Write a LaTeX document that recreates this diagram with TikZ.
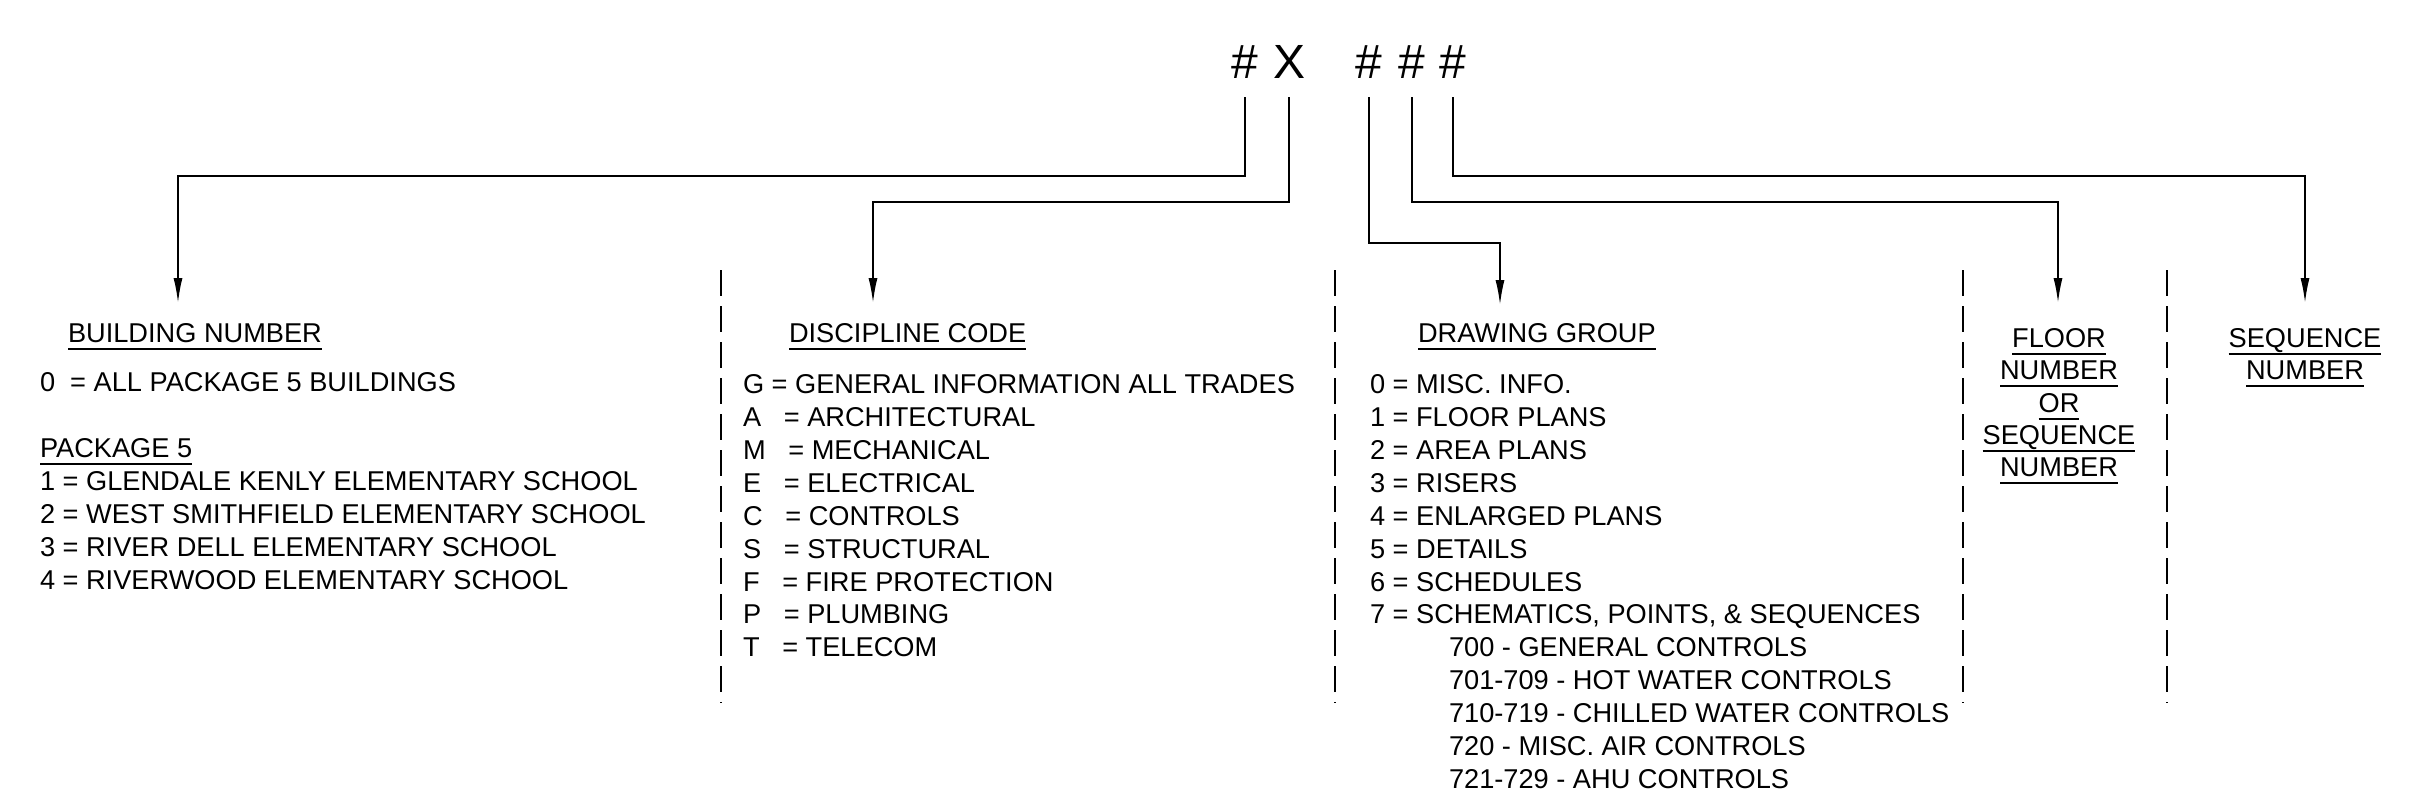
\documentclass[tikz,border=0pt]{standalone}
\usepackage{fontspec}
\setmainfont{Liberation Sans}
\usetikzlibrary{arrows.meta}
\newcommand\ulnode[4][base west]{%
  \node[txt,anchor=#1,text depth=0pt] (#2) at #3 {#4};
  \draw[ulline] ([yshift=-7pt]#2.south west) -- ([yshift=-7pt]#2.south east);}
\begin{document}
\begin{tikzpicture}[x=1pt,y=-1pt,
  txt/.style={anchor=base west, inner sep=0pt, outer sep=0pt, font=\fontsize{27.2}{32.9}\selectfont},
  hdr/.style={anchor=base, inner xsep=0pt, inner ysep=19pt, outer sep=0pt, text depth=0pt, font=\fontsize{48}{50}\selectfont},
  ulline/.style={line width=1.8pt},
  conn/.style={line width=1.8pt, -{Latex[length=25pt,width=9pt]}},
  sep/.style={line width=1.8pt, dash pattern=on 26pt off 10pt}]
\useasboundingbox (0,0) rectangle (2422,808);
% header
\node[hdr] (h1) at (1245,78) {\#};
\node[hdr] (h2) at (1289,78) {X};
\node[hdr] (h3) at (1369,78) {\#};
\node[hdr] (h4) at (1412,78) {\#};
\node[hdr] (h5) at (1453,78) {\#};
% arrow targets and bends
\coordinate (t1) at (178,303);
\coordinate (t2) at (873,303);
\coordinate (t3) at (1500,305);
\coordinate (t4) at (2058,303);
\coordinate (t5) at (2305,303);
\coordinate (k1) at (178,176);
\coordinate (k2) at (873,202);
\coordinate (k3) at (1500,243);
\coordinate (k4) at (2058,202);
\coordinate (k5) at (2305,176);
\draw[conn] (h1.south) |- (k1) -- (t1);
\draw[conn] (h2.south) |- (k2) -- (t2);
\draw[conn] (h3.south) |- (k3) -- (t3);
\draw[conn] (h4.south) |- (k4) -- (t4);
\draw[conn] (h5.south) |- (k5) -- (t5);
% separators
\draw[sep] (721,270) -- (721,703);
\draw[sep] (1335,270) -- (1335,703);
\draw[sep] (1963,270) -- (1963,703);
\draw[sep] (2167,270) -- (2167,703);
% column 1
\ulnode{bt}{(68,342)}{BUILDING NUMBER}
\node[txt] (b0) at (40,391) {0\ \ = ALL PACKAGE 5 BUILDINGS};
\ulnode{bp}{(40,457)}{PACKAGE 5}
\node[txt] (b1) at (40,490) {1 = GLENDALE KENLY ELEMENTARY SCHOOL};
\node[txt] (b2) at (40,523) {2 = WEST SMITHFIELD ELEMENTARY SCHOOL};
\node[txt] (b3) at (40,556) {3 = RIVER DELL ELEMENTARY SCHOOL};
\node[txt] (b4) at (40,589) {4 = RIVERWOOD ELEMENTARY SCHOOL};
% column 2
\ulnode{dt}{(789,342)}{DISCIPLINE CODE}
\node[txt] (d1) at (743,393) {G = GENERAL INFORMATION ALL TRADES};
\node[txt] (d2) at (743,426) {A\ \ \ = ARCHITECTURAL};
\node[txt] (d3) at (743,459) {M\ \ \ = MECHANICAL};
\node[txt] (d4) at (743,492) {E\ \ \ = ELECTRICAL};
\node[txt] (d5) at (743,525) {C\ \ \ = CONTROLS};
\node[txt] (d6) at (743,558) {S\ \ \ = STRUCTURAL};
\node[txt] (d7) at (743,591) {F\ \ \ = FIRE PROTECTION};
\node[txt] (d8) at (743,623) {P\ \ \ = PLUMBING};
\node[txt] (d9) at (743,656) {T\ \ \ = TELECOM};
% column 3
\ulnode{gt}{(1418,342)}{DRAWING GROUP}
\node[txt] (g0) at (1370,393) {0 = MISC. INFO.};
\node[txt] (g1) at (1370,426) {1 = FLOOR PLANS};
\node[txt] (g2) at (1370,459) {2 = AREA PLANS};
\node[txt] (g3) at (1370,492) {3 = RISERS};
\node[txt] (g4) at (1370,525) {4 = ENLARGED PLANS};
\node[txt] (g5) at (1370,558) {5 = DETAILS};
\node[txt] (g6) at (1370,591) {6 = SCHEDULES};
\node[txt] (g7) at (1370,623) {7 = SCHEMATICS, POINTS, \& SEQUENCES};
\node[txt] (g8) at (1449,656) {700 - GENERAL CONTROLS};
\node[txt] (g9) at (1449,689) {701-709 - HOT WATER CONTROLS};
\node[txt] (g10) at (1449,722) {710-719 - CHILLED WATER CONTROLS};
\node[txt] (g11) at (1449,755) {720 - MISC. AIR CONTROLS};
\node[txt] (g12) at (1449,788) {721-729 - AHU CONTROLS};
% column 4
\ulnode[base]{f1}{(2059,347)}{FLOOR}
\ulnode[base]{f2}{(2059,379)}{NUMBER}
\ulnode[base]{f3}{(2059,412)}{OR}
\ulnode[base]{f4}{(2059,444)}{SEQUENCE}
\ulnode[base]{f5}{(2059,476)}{NUMBER}
% column 5
\ulnode[base]{s1}{(2305,347)}{SEQUENCE}
\ulnode[base]{s2}{(2305,379)}{NUMBER}
\end{tikzpicture}
\end{document}
